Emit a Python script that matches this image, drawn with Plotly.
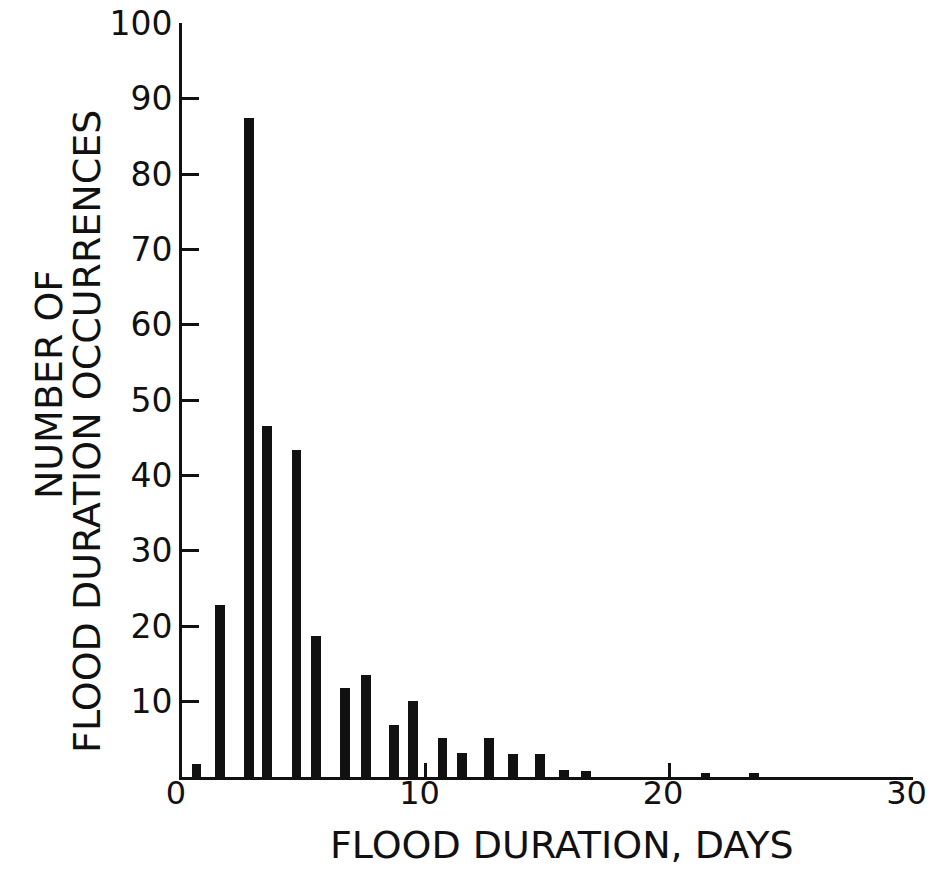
import plotly.graph_objects as go

# Flood duration histogram: bar position (days) and number of occurrences
duration_days = [0.6, 1.55, 2.75, 3.5, 4.7, 5.5, 6.7, 7.55, 8.7, 9.5,
                 10.7, 11.5, 12.6, 13.6, 14.7, 15.7, 16.6, 21.5, 23.5]
occurrences = [1.7, 22.8, 87.5, 46.6, 43.4, 18.7, 11.8, 13.5, 6.9, 10.1,
               5.2, 3.2, 5.2, 3.0, 3.0, 0.9, 0.8, 0.5, 0.5]

x_ticks = [0, 10, 20, 30]
y_ticks = [10, 20, 30, 40, 50, 60, 70, 80, 90, 100]

FONT = "DejaVu Sans"
INK = "#111111"

fig = go.Figure(
    go.Bar(
        x=duration_days,
        y=occurrences,
        width=0.4,
        marker=dict(color=INK, line=dict(width=0)),
        hoverinfo="x+y",
    )
)

fig.update_xaxes(
    range=[0, 30.02],
    tickvals=x_ticks,
    showgrid=False,
    zeroline=False,
    showline=True,
    linecolor=INK,
    linewidth=3,
    ticks="inside",
    ticklen=14,
    tickwidth=3,
    tickcolor=INK,
    tickfont=dict(family=FONT, size=32, color=INK),
    ticklabeloverflow="allow",
    ticklabelstandoff=-14,
    ticklabelshift=-6,
    automargin=False,
)
fig.update_yaxes(
    range=[0, 100.05],
    tickvals=y_ticks,
    showgrid=False,
    zeroline=False,
    showline=True,
    linecolor=INK,
    linewidth=3,
    ticks="inside",
    ticklen=17,
    tickwidth=3,
    tickcolor=INK,
    tickfont=dict(family=FONT, size=33, color=INK),
    automargin=False,
)

title_font = dict(family=FONT, size=38, color=INK)
fig.add_annotation(
    text="FLOOD DURATION, DAYS",
    xref="paper", yref="paper", x=0.52, y=-0.09,
    xanchor="center", yanchor="middle", showarrow=False, font=title_font,
)
fig.add_annotation(
    text="NUMBER OF",
    xref="paper", yref="paper", x=-0.182, y=0.521, textangle=-90,
    xanchor="center", yanchor="middle", showarrow=False, font=title_font,
)
fig.add_annotation(
    text="FLOOD DURATION OCCURRENCES",
    xref="paper", yref="paper", x=-0.131, y=0.458, textangle=-90,
    xanchor="center", yanchor="middle", showarrow=False, font=title_font,
)

fig.update_layout(
    width=930,
    height=882,
    margin=dict(l=182, r=17, t=23, b=105, autoexpand=False),
    paper_bgcolor="white",
    plot_bgcolor="white",
    showlegend=False,
    bargap=0,
)

fig.write_html("out.html")
